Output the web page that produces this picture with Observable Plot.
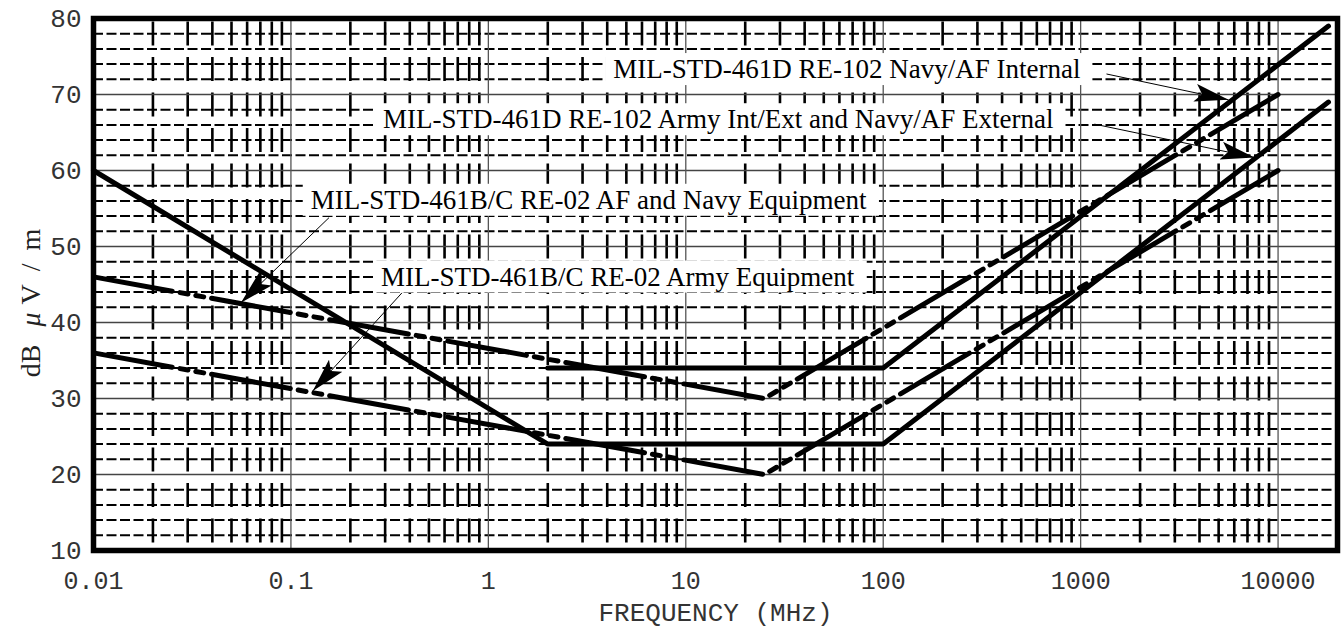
<!DOCTYPE html>
<html><head><meta charset="utf-8">
<script src="https://cdn.jsdelivr.net/npm/d3@7"></script>
<script src="https://cdn.jsdelivr.net/npm/@observablehq/plot@0.6"></script>
<style>
html,body{margin:0;padding:0;background:#fff;}
#chart{width:1341px;height:639px;overflow:hidden;}
</style></head><body><div id="chart"></div>
<script>
// ---- axis ticks ----
const xTicks = [0.01, 0.1, 1, 10, 100, 1000, 10000];
const xTickLabels = ["0.01", "0.1", "1", "10", "100", "1000", "10000"];
const yTicks = [10, 20, 30, 40, 50, 60, 70, 80];
const yTickLabels = ["10", "20", "30", "40", "50", "60", "70", "80"];
const xMajorGrid = [0.1, 1, 10, 100, 1000, 10000];
const minorMultipliers = [2, 3, 4, 5, 6, 7, 8, 9];
const minorDecades = [0.01, 0.1, 1, 10, 100, 1000];
const yMajorGrid = [20, 30, 40, 50, 60, 70];
const yMinorGrid = [12, 14, 16, 18, 22, 24, 26, 28, 32, 34, 36, 38, 42, 44, 46, 48,
  52, 54, 56, 58, 62, 64, 66, 68, 72, 74, 76, 78];
const xLabel = "FREQUENCY (MHz)";
const yLabel = "dB μV/m";

// ---- series (frequency MHz, dB µV/m) ----
const re102InternalFreq = [2, 100, 18000];
const re102InternalDb = [34, 34, 79];
const re102ExternalFreq = [0.01, 2, 100, 18000];
const re102ExternalDb = [60, 24, 24, 69];
const re02NavyFreq = [0.01, 25, 10000];
const re02NavyDb = [46, 30, 70];
const re02ArmyFreq = [0.01, 25, 10000];
const re02ArmyDb = [36, 20, 60];

// ---- annotations ----
const annotationTexts = [
  "MIL-STD-461D RE-102 Navy/AF Internal",
  "MIL-STD-461D RE-102 Army Int/Ext and Navy/AF External",
  "MIL-STD-461B/C RE-02 AF and Navy Equipment",
  "MIL-STD-461B/C RE-02 Army Equipment"
];
const annotationFreq = [4.29, 0.293, 0.126, 0.286];
const annotationDb = [73.3, 66.7, 56.1, 46.0];
const leaderStartFreq = [1352, 1175, 0.156, 0.365];
const leaderStartDb = [72.7, 66.1, 53.8, 43.9];
const leaderEndFreq = [5610, 7600, 0.0558, 0.129];
const leaderEndDb = [69.3, 61.7, 42.6, 31.0];

// ---- build tables ----
const xMinorGrid = minorDecades.flatMap(d => minorMultipliers.map(m => +(d * m).toPrecision(3)));
const toPts = (fs, ds) => fs.map((f, i) => ({f, db: ds[i]}));
const annots = annotationTexts.map((t, i) => ({t, f: annotationFreq[i], db: annotationDb[i]}));
const leaders = leaderStartFreq.map((f, i) => ({f1: f, d1: leaderStartDb[i], f2: leaderEndFreq[i], d2: leaderEndDb[i]}));
const xt = xTicks.map((v, i) => ({v, label: xTickLabels[i]}));
const yt = yTicks.map((v, i) => ({v, label: yTickLabels[i]}));

const mono = "'Liberation Mono', 'DejaVu Sans Mono', monospace";
const serif = "'Liberation Serif', 'DejaVu Serif', serif";
const dashCurve = "80,8,8,8,8,8";

const plot = Plot.plot({
  width: 1341, height: 639,
  marginLeft: 93, marginRight: 4, marginTop: 18, marginBottom: 89,
  x: {type: "log", domain: [0.01, 20000], axis: null},
  y: {domain: [10, 80], axis: null},
  style: {background: "#fff", overflow: "visible"},
  marks: [
    Plot.ruleY(yMinorGrid, {y: d => d, stroke: "#000", strokeWidth: 2, strokeDasharray: "10,3.5"}),
    Plot.ruleX(xMinorGrid, {x: d => d, stroke: "#000", strokeWidth: 2.6, strokeDasharray: "24,11.5", strokeDashoffset: 32}),
    Plot.ruleY(yMajorGrid, {y: d => d, stroke: "#444", strokeWidth: 1.5}),
    Plot.ruleX(xMajorGrid, {x: d => d, stroke: "#555", strokeWidth: 1.3}),
    Plot.line(toPts(re02NavyFreq, re02NavyDb), {x: "f", y: "db", stroke: "#000", strokeWidth: 5, strokeDasharray: dashCurve, strokeLinejoin: "miter"}),
    Plot.line(toPts(re02ArmyFreq, re02ArmyDb), {x: "f", y: "db", stroke: "#000", strokeWidth: 5, strokeDasharray: dashCurve, strokeLinejoin: "miter"}),
    Plot.line(toPts(re102InternalFreq, re102InternalDb), {x: "f", y: "db", stroke: "#000", strokeWidth: 5, strokeLinejoin: "miter"}),
    Plot.line(toPts(re102ExternalFreq, re102ExternalDb), {x: "f", y: "db", stroke: "#000", strokeWidth: 5, strokeLinejoin: "miter"}),
    Plot.frame({stroke: "#000", strokeWidth: 5.5}),
    Plot.text(annots, {x: "f", y: "db", text: "t", textAnchor: "start", lineAnchor: "middle",
      fontFamily: serif, fontSize: 27, fill: "#000", ariaDescription: "annotation"}),
    Plot.link(leaders, {x1: "f1", y1: "d1", x2: "f2", y2: "d2", stroke: "#000", strokeWidth: 1, ariaDescription: "leader"}),
    Plot.text(xt, {x: "v", frameAnchor: "bottom", dy: 30, text: "label", lineAnchor: "middle", textAnchor: "middle",
      fontFamily: mono, fontSize: 25, fill: "#333", letterSpacing: 1}),
    Plot.text(yt, {y: "v", frameAnchor: "left", dx: -12, text: "label", textAnchor: "end", lineAnchor: "middle",
      fontFamily: mono, fontSize: 26, fill: "#333", letterSpacing: 2}),
    Plot.text([xLabel], {frameAnchor: "bottom", dy: 62, text: d => d, lineAnchor: "middle", textAnchor: "middle",
      fontFamily: mono, fontSize: 26, fill: "#333", letterSpacing: 2}),
    Plot.text([yLabel], {frameAnchor: "left", dx: -62, dy: 12, rotate: -90, text: d => d, lineAnchor: "middle", textAnchor: "middle",
      fontFamily: serif, fontSize: 28, fill: "#222", ariaDescription: "ylabel"})
  ]
});

document.getElementById("chart").append(plot);
const svg = d3.select(plot);
const svgRect = plot.getBoundingClientRect();

// white boxes behind annotation texts
const annotG = svg.select('g[aria-description="annotation"]');
const boxG = document.createElementNS("http://www.w3.org/2000/svg", "g");
plot.insertBefore(boxG, annotG.node());
annotG.selectAll("text").each(function() {
  const r = this.getBoundingClientRect();
  d3.select(boxG).append("rect")
    .attr("x", r.left - svgRect.left - 8)
    .attr("y", r.top - svgRect.top - 1)
    .attr("width", r.width + 20)
    .attr("height", r.height + 2)
    .attr("fill", "#fff");
});

// filled arrowheads
const defs = svg.append("defs");
defs.append("marker").attr("id", "ah").attr("markerUnits", "userSpaceOnUse")
  .attr("viewBox", "0 0 34 18").attr("refX", 34).attr("refY", 9)
  .attr("markerWidth", 34).attr("markerHeight", 18).attr("orient", "auto")
  .append("path").attr("d", "M0,0L34,9L0,18L7,9Z").attr("fill", "#000");
svg.selectAll('g[aria-description="leader"] path').attr("marker-end", "url(#ah)");

// y label with italic mu
const yl = svg.select('g[aria-description="ylabel"] text');
yl.text(null);
yl.append("tspan").text("dB");
yl.append("tspan").attr("dx", 18).attr("font-style", "italic").text("μ");
yl.append("tspan").attr("dx", 8).attr("letter-spacing", 13).text("V/m");
</script></body></html>
